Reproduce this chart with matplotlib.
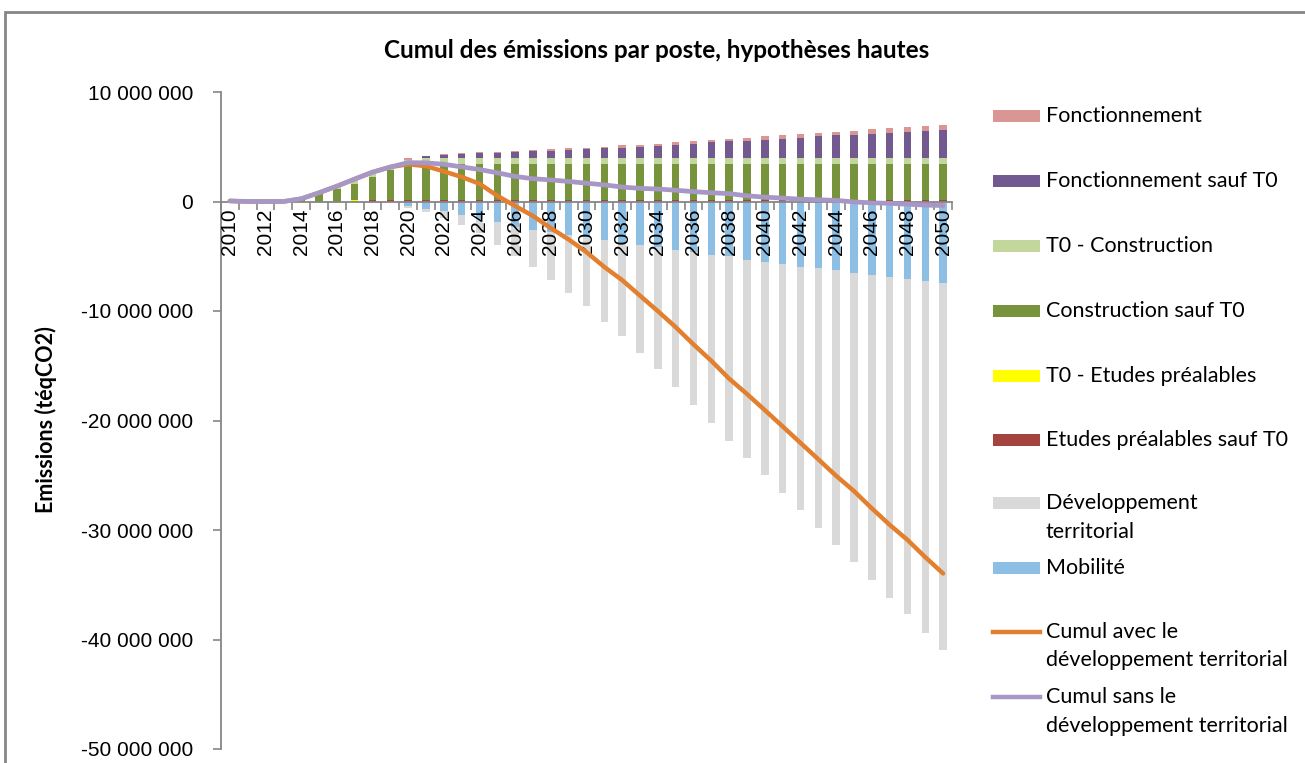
import numpy as np
import matplotlib
matplotlib.use("Agg")
from matplotlib import pyplot as plt
from matplotlib.patches import Rectangle
from matplotlib.lines import Line2D
from matplotlib.ticker import FuncFormatter

# cumulative emissions per item, in millions of tCO2 (years 2010..2050)
years = list(range(2010, 2051))
etudes_sauf_t0 = [0] * 8 + [0.1] * 33
t0_etudes = [0.05, 0, 0, 0, 0, 0, 0, 0.12] + [0] * 33
construction_sauf_t0 = [0, 0, 0, 0, 0.2, 0.7, 1.1, 1.5, 2.15, 2.75, 3.3] + [3.28] * 30
t0_construction = [0, 0, 0, 0, 0.05, 0.1, 0.3, 0.43, 0.43, 0.3, 0.4] + [0.62] * 30
fonct_sauf_t0 = [0] * 10 + [0.03, 0.12, 0.22, 0.32, 0.4, 0.42, 0.5, 0.57, 0.62, 0.7, 0.77,
                            0.86, 0.93, 0.99, 1.1, 1.2, 1.29, 1.4, 1.48, 1.53, 1.63,
                            1.72, 1.83, 1.95, 2.04, 2.07, 2.17, 2.27, 2.38, 2.48, 2.57]
fonctionnement = [0] * 10 + [0.15, 0.08, 0.08, 0.09, 0.1, 0.1, 0.09, 0.11, 0.15, 0.18, 0.15,
                             0.16, 0.19, 0.21, 0.19, 0.23, 0.26, 0.25, 0.24, 0.29, 0.32,
                             0.34, 0.33, 0.31, 0.31, 0.39, 0.41, 0.41, 0.42, 0.44, 0.46]
mobilite = [0] * 10 + [-0.43, -0.67, -0.9, -1.25, -1.58, -1.9, -2.3, -2.6, -2.8, -3.05, -3.25,
                       -3.5, -3.8, -4.0, -4.15, -4.4, -4.65, -4.85, -5.0, -5.3, -5.55,
                       -5.75, -5.95, -6.1, -6.25, -6.5, -6.7, -6.85, -7.05, -7.25, -7.4]
dev_territorial = [0] * 10 + [-0.15, -0.3, -0.65, -0.92, -1.3, -2.1, -2.7, -3.4, -4.4, -5.3, -6.3,
                              -7.5, -8.5, -9.8, -11.15, -12.5, -13.95, -15.35, -16.9, -18.1, -19.45,
                              -20.85, -22.25, -23.7, -25.15, -26.4, -27.9, -29.35, -30.65, -32.15, -33.6]

W, H = 1305, 763
GRAY = '#868686'

def fx(px):
    return px / W

def fy(py):
    return 1 - py / H

fig = plt.figure(figsize=(W / 100, H / 100), dpi=100)
ax = fig.add_axes([fx(221), fy(749), (952 - 221) / W, (749 - 92) / H])

x = np.arange(len(years))
bw = 0.42
pos = [(etudes_sauf_t0, '#A5433F'), (t0_etudes, '#FFFF00'),
       (construction_sauf_t0, '#77933C'), (t0_construction, '#C3D69B'),
       (fonct_sauf_t0, '#725990'), (fonctionnement, '#D99694')]
bottom = np.zeros(len(x))
for vals, col in pos:
    v = np.array(vals) * 1e6
    ax.bar(x, v, bw, bottom=bottom, color=col, linewidth=0, zorder=2)
    bottom += v
neg = [(mobilite, '#8DBFE4'), (dev_territorial, '#D9D9D9')]
nbottom = np.zeros(len(x))
for vals, col in neg:
    v = np.array(vals) * 1e6
    ax.bar(x, v, bw, bottom=nbottom, color=col, linewidth=0, zorder=2)
    nbottom += v

cumul_avec = bottom + nbottom
cumul_sans = bottom + np.array(mobilite) * 1e6
ax.plot(x, cumul_avec, color='#E2802F', lw=3.2, zorder=6, solid_capstyle='round')
ax.plot(x, cumul_sans, color='#A797C6', lw=3.4, zorder=7, solid_capstyle='round')

ax.set_xlim(-0.5, len(x) - 0.5)
ax.set_ylim(-50e6, 10e6)
ax.set_yticks(np.arange(-50e6, 10e6 + 1, 10e6))
ax.yaxis.set_major_formatter(FuncFormatter(lambda v, p: f"{int(round(v)):,}".replace(',', ' ')))

for s in ['top', 'right']:
    ax.spines[s].set_visible(False)
ax.spines['bottom'].set_position(('data', 0))
ax.spines['bottom'].set_color(GRAY)
ax.spines['left'].set_color(GRAY)
ax.spines['bottom'].set_linewidth(1.3)
ax.spines['left'].set_linewidth(1.3)
ax.spines['bottom'].set_zorder(5)
ax.xaxis.set_zorder(5)

ax.set_xticks(x[::2])
ax.set_xticklabels([str(y) for y in years[::2]], rotation=90, family='Liberation Sans', fontsize=15)
ax.set_xticks(np.arange(-0.5, len(x), 1), minor=True)
ax.tick_params(axis='x', which='major', length=0, pad=5)
ax.tick_params(axis='x', which='minor', length=6, direction='out', color=GRAY, width=1.2)
ax.tick_params(axis='y', length=6, direction='out', color=GRAY, width=1.2, pad=14, labelsize=15)
for t in ax.get_yticklabels():
    t.set_family('Liberation Sans')

fig.text(fx(657), fy(50), 'Cumul des émissions par poste, hypothèses hautes',
         ha='center', va='center', fontsize=17.5, fontweight='bold', family='Lato')
fig.text(fx(46), fy(420), 'Emissions (téqCO2)', rotation=90, ha='center', va='center',
         fontsize=15.5, fontweight='bold', family='Lato')

# chart frame
fig.add_artist(Rectangle((fx(5), -0.1), 1.2, fy(12) + 0.1, transform=fig.transFigure,
                         fill=False, edgecolor=GRAY, lw=2))

# legend drawn by hand, Excel style
entries = [('Fonctionnement', 'p', '#D99694', 116),
           ('Fonctionnement sauf T0', 'p', '#725990', 181),
           ('T0 - Construction', 'p', '#C3D69B', 246),
           ('Construction sauf T0', 'p', '#77933C', 311),
           ('T0 - Etudes préalables', 'p', '#FFFF00', 376),
           ('Etudes préalables sauf T0', 'p', '#A5433F', 440),
           ('Développement\nterritorial', 'p', '#D9D9D9', 503),
           ('Mobilité', 'p', '#8DBFE4', 568),
           ('Cumul avec le\ndéveloppement territorial', 'l', '#E2802F', 632),
           ('Cumul sans le\ndéveloppement territorial', 'l', '#A797C6', 697)]
for lab, kind, col, yp in entries:
    if kind == 'p':
        fig.add_artist(Rectangle((fx(993), fy(yp + 6)), 47 / W, 12 / H,
                                 transform=fig.transFigure, color=col, lw=0))
    else:
        fig.add_artist(Line2D([fx(993), fx(1040)], [fy(yp), fy(yp)],
                              transform=fig.transFigure, color=col, lw=3.2))
    for i, part in enumerate(lab.split('\n')):
        fig.text(fx(1046), fy(yp + i * 28.5), part, ha='left', va='center',
                 fontsize=15.5, family='Lato')

fig.savefig('out.png', dpi=100)
